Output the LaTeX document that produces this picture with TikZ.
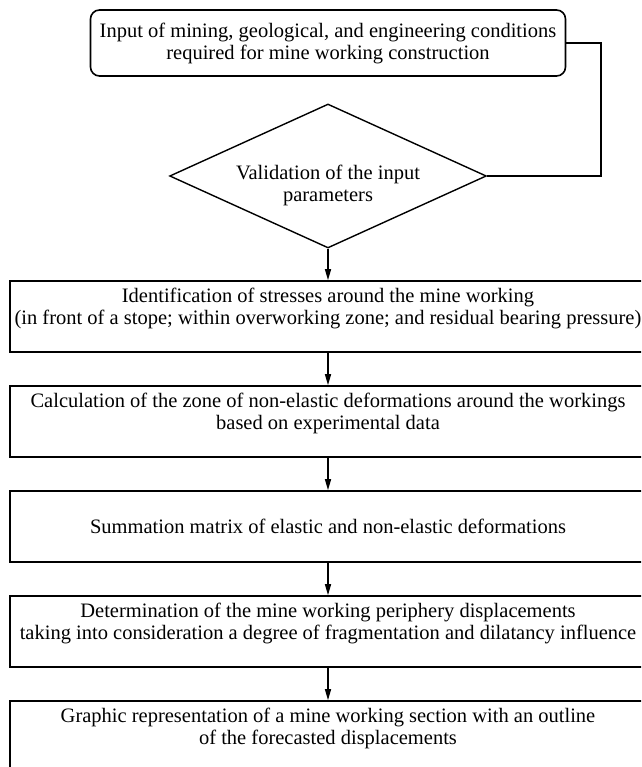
\documentclass[tikz,border=0pt]{standalone}
\usepackage{fontspec}
\setmainfont{Liberation Serif}
\usetikzlibrary{shapes.geometric,arrows.meta}
\newcommand{\lift}{\rule[-21pt]{0pt}{0pt}}
\newcommand{\sink}{\rule{0pt}{34pt}}

\begin{document}
\begin{tikzpicture}[x=1pt, y=-1pt, line width=1.6pt,
                    font=\fontsize{20.5}{22}\selectfont,
                    stage/.style={draw, minimum width=636pt, minimum height=71pt,
                        inner sep=0pt, align=center},
                    start/.style={stage, rounded corners=9pt, minimum width=475pt,
                        minimum height=66pt},
                    check/.style={draw, diamond, aspect=2.2, line width=1.4pt,
                        minimum width=316pt, minimum height=144pt, inner sep=0pt, align=center},
                    flow/.style={line width=1.4pt, -{Triangle[length=11pt,width=6pt]}}]
                    \useasboundingbox (0,0) rectangle (641,767);
                    \clip (0,0) rectangle (641,767);
                    \node[start] (input) at (328,43)
                        {Input of mining, geological, and engineering conditions\\
                         required for mine working construction};
                    \node[check] (valid) at (328,176)
                        {\sink Validation of the input\\ parameters};
                    \node[stage] (stress) at (328,316.5)
                        {Identification of stresses around the mine working\\
                         (in front of a stope; within overworking zone; and residual bearing pressure)\lift};
                    \node[stage] (zone) at (328,421.5)
                        {Calculation of the zone of non-elastic deformations around the workings\\
                         based on experimental data\lift};
                    \node[stage] (matrix) at (328,526.5)
                        {Summation matrix of elastic and non-elastic deformations};
                    \node[stage] (displ) at (328,631.5)
                        {Determination of the mine working periphery displacements\\
                         taking into consideration a degree of fragmentation and dilatancy influence\lift};
                    \node[stage] (graph) at (328,736.5)
                        {Graphic representation of a mine working section with an outline\\
                         of the forecasted displacements\lift};
                    \draw[line width=1.4pt] (valid.east) -- ++(114,0) |- (input.east);
                    \draw[flow] (valid.south) -- (stress.north);
                    \foreach \a/\b in {stress/zone, zone/matrix, matrix/displ, displ/graph}
                        \draw[flow] (\a.south) -- (\b.north);
                \end{tikzpicture}
\end{document}
